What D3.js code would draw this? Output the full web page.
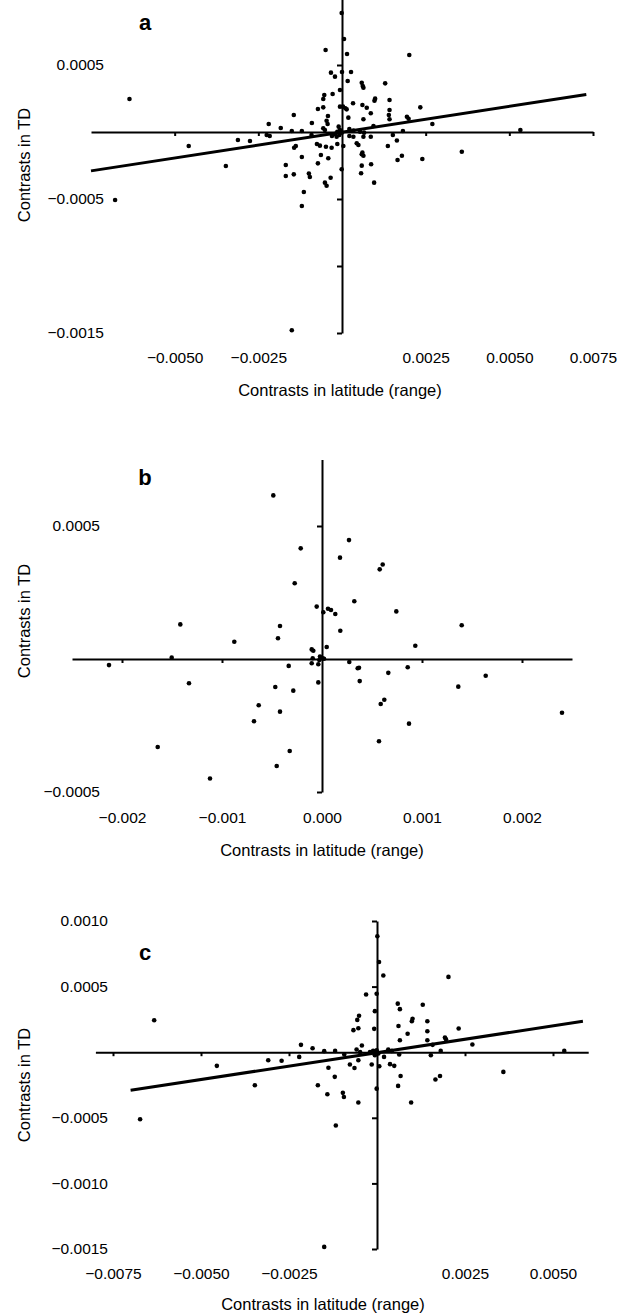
<!DOCTYPE html>
<html>
<head>
<meta charset="utf-8">
<script src="https://cdn.jsdelivr.net/npm/d3@7/dist/d3.min.js"></script>
<style>
  body { margin: 0; background: #fff; }
  svg { display: block; font-family: "Liberation Sans", Arial, sans-serif; }
  .domain { stroke: #000; stroke-width: 2px; }
  .tick line { stroke: #000; stroke-width: 2px; }
</style>
</head>
<body>
<div id="chart"></div>
<script>
// panel a: contrasts in latitude vs contrasts in TD (all species)
const aLat = [-63.5e-4,-67.8e-4,-45.8e-4,-34.7e-4,-31.1e-4,-27.5e-4,-22.5e-4,-21.6e-4,-21.9e-4,-18.3e-4,
  -15.0e-4,-12.0e-4,-14.4e-4,-9.0e-4,-7.2e-4,-13.8e-4,-14.3e-4,-12.0e-4,-7.5e-4,-6.6e-4,
  -7.2e-4,-16.8e-4,-16.8e-4,-14.4e-4,-9.9e-4,-9.6e-4,-11.4e-4,-12.0e-4,-0.1e-4,0.6e-4,
  -4.9e-4,1.5e-4,20.1e-4,-3.3e-4,-2.1e-4,2.7e-4,0.0,1.7e-4,5.9e-4,6.2e-4,
  6.4e-4,12.9e-4,-0.6e-4,-5.3e-4,-5.6e-4,-2.8e-4,9.9e-4,9.7e-4,14.2e-4,3.3e-4,
  6.1e-4,-5.6e-4,-0.6e-4,0.3e-4,1.0e-4,1.4e-4,7.4e-4,8.6e-4,14.2e-4,14.0e-4,
  14.2e-4,23.4e-4,19.4e-4,19.9e-4,-4.2e-4,6.4e-4,1.9e-4,-4.6e-4,-4.3e-4,-5.6e-4,
  -5.1e-4,-1.0e-4,-0.6e-4,-1.4e-4,-0.1e-4,-0.8e-4,-1.6e-4,-2.1e-4,-3.0e-4,2.2e-4,
  3.4e-4,5.4e-4,6.6e-4,9.4e-4,18.2e-4,27.0e-4,-9.1e-4,2.2e-4,3.4e-4,4.4e-4,
  4.9e-4,6.4e-4,8.6e-4,15.2e-4,16.4e-4,13.7e-4,-4.8e-4,-3.1e-4,-1.4e-4,0.4e-4,
  6.1e-4,5.9e-4,6.4e-4,-6.3e-4,-4.1e-4,17.9e-4,16.6e-4,24.0e-4,5.9e-4,8.7e-4,
  -0.1e-4,5.7e-4,-3.4e-4,-5.1e-4,-4.6e-4,9.6e-4,35.8e-4,53.3e-4,-15.0e-4];
const aTD = [2.46e-4,-5.07e-4,-1.04e-4,-2.54e-4,-0.60e-4,-0.67e-4,-0.22e-4,-0.30e-4,0.60e-4,0.30e-4,
  0.07e-4,0.07e-4,1.27e-4,0.67e-4,1.72e-4,-1.04e-4,-1.17e-4,-1.87e-4,-0.90e-4,-1.02e-4,
  -2.34e-4,-2.46e-4,-3.28e-4,-3.16e-4,-3.10e-4,-3.36e-4,-4.48e-4,-5.52e-4,8.88e-4,6.94e-4,
  6.12e-4,5.82e-4,5.75e-4,4.43e-4,4.13e-4,4.48e-4,4.48e-4,3.81e-4,3.68e-4,3.43e-4,
  3.31e-4,3.63e-4,3.13e-4,2.76e-4,2.46e-4,2.84e-4,2.49e-4,2.34e-4,2.39e-4,2.14e-4,
  2.01e-4,1.84e-4,1.89e-4,1.89e-4,1.77e-4,1.69e-4,1.81e-4,1.40e-4,1.64e-4,1.27e-4,
  0.95e-4,1.84e-4,1.14e-4,0.99e-4,1.19e-4,0.95e-4,1.07e-4,0.84e-4,0.60e-4,0.28e-4,
  0.15e-4,0.40e-4,0.15e-4,0.02e-4,-0.05e-4,-0.22e-4,-0.35e-4,-0.15e-4,-0.30e-4,0.22e-4,
  0.10e-4,0.02e-4,-0.05e-4,0.45e-4,0.07e-4,0.60e-4,-0.22e-4,-0.30e-4,-0.35e-4,-0.84e-4,
  -0.97e-4,-0.35e-4,-0.35e-4,-0.22e-4,-0.63e-4,-1.04e-4,-1.10e-4,-1.17e-4,-0.90e-4,-1.04e-4,
  -1.54e-4,-1.66e-4,-1.77e-4,-1.72e-4,-1.96e-4,-1.77e-4,-2.09e-4,-2.01e-4,-2.51e-4,-2.41e-4,
  -2.78e-4,-3.08e-4,-3.41e-4,-3.78e-4,-4.01e-4,-3.78e-4,-1.47e-4,0.15e-4,-14.8e-4];
const aFitLat = [-0.0075, 0.0073];
const aFitTD = [-0.00029, 0.00028];

// panel b
const bLat = [-4.87e-4,-2.13e-4,-2.73e-4,-0.53e-4,-14.17e-4,-4.2e-4,-4.4e-4,-8.77e-4,-1.03e-4,-0.87e-4,
  -15.03e-4,-21.3e-4,-3.33e-4,-1.03e-4,-0.37e-4,-13.3e-4,-0.37e-4,-4.67e-4,-2.87e-4,-6.33e-4,
  -4.2e-4,-6.8e-4,-16.43e-4,-3.23e-4,-4.53e-4,-11.2e-4,2.7e-4,1.8e-4,6.07e-4,5.77e-4,
  3.23e-4,0.13e-4,0.6e-4,0.9e-4,1.33e-4,7.43e-4,13.97e-4,1.83e-4,9.33e-4,0.47e-4,
  -0.2e-4,0.07e-4,0.2e-4,-0.27e-4,-0.93e-4,2.73e-4,3.57e-4,3.7e-4,8.57e-4,6.63e-4,
  3.77e-4,16.37e-4,13.63e-4,6.23e-4,5.87e-4,24.0e-4,8.7e-4,5.7e-4];
const bTD = [6.15e-4,4.16e-4,2.85e-4,1.97e-4,1.30e-4,1.24e-4,0.78e-4,0.65e-4,0.36e-4,0.31e-4,
  0.05e-4,-0.23e-4,-0.26e-4,-0.16e-4,-0.20e-4,-0.91e-4,-0.88e-4,-1.05e-4,-1.19e-4,-1.74e-4,
  -1.98e-4,-2.34e-4,-3.31e-4,-3.46e-4,-4.02e-4,-4.49e-4,4.47e-4,3.81e-4,3.55e-4,3.37e-4,
  2.17e-4,1.76e-4,1.89e-4,1.84e-4,1.69e-4,1.79e-4,1.27e-4,1.06e-4,0.50e-4,0.45e-4,
  0.09e-4,0.03e-4,0.01e-4,-0.04e-4,0.03e-4,-0.11e-4,-0.35e-4,-0.33e-4,-0.31e-4,-0.52e-4,
  -0.83e-4,-0.63e-4,-1.04e-4,-1.53e-4,-1.69e-4,-2.02e-4,-2.43e-4,-3.09e-4];

// panel c
const cLat = [-63.3e-4,-67.3e-4,-45.5e-4,-34.7e-4,-30.9e-4,-27.1e-4,-22.1e-4,-21.6e-4,-18.3e-4,-16.8e-4,
  0.57e-4,1.8e-4,20.3e-4,-3.1e-4,-0.1e-4,5.9e-4,6.5e-4,13.0e-4,-0.6e-4,-5.1e-4,
  -5.6e-4,10.1e-4,9.9e-4,14.3e-4,-6.7e-4,-5.3e-4,-0.8e-4,6.1e-4,8.7e-4,14.3e-4,
  23.2e-4,6.5e-4,14.3e-4,19.3e-4,19.6e-4,-4.3e-4,-15.0e-4,-11.9e-4,-5.8e-4,-4.8e-4,
  -2.0e-4,-1.1e-4,-0.1e-4,0.4e-4,-0.6e-4,3.2e-4,4.2e-4,6.3e-4,15.3e-4,18.1e-4,
  -9.3e-4,-5.3e-4,2.0e-4,-13.8e-4,-7.7e-4,-6.4e-4,-1.5e-4,0.65e-4,3.7e-4,4.9e-4,
  -12.0e-4,6.7e-4,6.0e-4,16.6e-4,17.9e-4,-0.1e-4,-14.1e-4,-9.7e-4,-9.4e-4,-5.3e-4,
  9.7e-4,0.1e-4,27.1e-4,15.8e-4,53.2e-4,35.9e-4,-11.7e-4,-15.0e-4];
const cTD = [2.44e-4,-5.11e-4,-1.04e-4,-2.52e-4,-0.61e-4,-0.65e-4,-0.36e-4,0.56e-4,0.30e-4,-2.52e-4,
  6.88e-4,5.85e-4,5.74e-4,4.40e-4,4.46e-4,3.70e-4,3.28e-4,3.62e-4,3.13e-4,2.78e-4,
  2.46e-4,2.55e-4,2.36e-4,2.36e-4,1.68e-4,1.83e-4,1.78e-4,2.00e-4,1.41e-4,1.60e-4,
  1.81e-4,0.91e-4,0.91e-4,1.12e-4,0.99e-4,0.51e-4,0.08e-4,0.10e-4,0.21e-4,0.02e-4,
  0.02e-4,0.10e-4,0.15e-4,-0.10e-4,-0.23e-4,0.21e-4,0.10e-4,-0.18e-4,-0.23e-4,0.10e-4,
  -0.18e-4,-0.61e-4,-0.36e-4,-1.18e-4,-0.94e-4,-1.20e-4,-0.94e-4,-1.07e-4,-0.91e-4,-1.04e-4,
  -1.88e-4,-1.81e-4,-2.57e-4,-2.08e-4,-1.81e-4,-2.78e-4,-3.20e-4,-3.10e-4,-3.41e-4,-3.83e-4,
  -3.83e-4,8.84e-4,0.59e-4,0.56e-4,0.10e-4,-1.50e-4,-5.59e-4,-14.84e-4];
const cFitLat = [-0.0070, 0.00585];
const cFitTD = [-0.00029, 0.000236];

// ticks and labels
const aXTicks = [-0.005, -0.0025, 0.0025, 0.005, 0.0075];
const aYTicks = [0.0005, -0.0005, -0.001, -0.0015];
const aYLabels = [0.0005, -0.0005, -0.0015];
const bXTicks = [-0.002, -0.001, 0.001, 0.002];
const bXLabels = [-0.002, -0.001, 0, 0.001, 0.002];
const bYTicks = [0.0005, -0.0005];
const cXTicks = [-0.0075, -0.005, -0.0025, 0.0025, 0.005];
const cYTicks = [0.001, 0.0005, -0.0005, -0.001, -0.0015];

const W = 626, H = 1314;
const svg = d3.select('#chart').append('svg').attr('width', W).attr('height', H);
svg.append('rect').attr('width', W).attr('height', H).attr('fill', '#fff');

function drawPanel(o) {
  const x = d3.scaleLinear().domain(o.xDomain).range(o.xRange);
  const y = d3.scaleLinear().domain(o.yDomain).range(o.yRange);
  const g = svg.append('g');

  // horizontal axis through y = 0, ticks pointing down
  g.append('g')
    .attr('transform', `translate(0,${y(0)})`)
    .call(d3.axisBottom(x).tickValues(o.xTicks).tickSize(4).tickSizeOuter(0).tickFormat(''));

  // vertical axis through x = 0, ticks pointing left
  g.append('g')
    .attr('transform', `translate(${x(0)},0)`)
    .call(d3.axisLeft(y).tickValues(o.yTicks).tickSize(5).tickSizeOuter(0).tickFormat(''));

  // x tick labels sit below the plot
  const xl = g.append('g')
    .attr('transform', `translate(0,${o.xLabelY})`)
    .call(d3.axisBottom(x).tickValues(o.xLabels).tickSize(0).tickPadding(0).tickFormat(d3.format(o.xFmt)));
  xl.select('.domain').remove();
  xl.selectAll('text').attr('font-size', 15.5).attr('fill', '#000').attr('dy', '0.35em')
    .attr('font-family', '"Liberation Sans", Arial, sans-serif');

  // y tick labels sit at the far left
  const yl = g.append('g')
    .attr('transform', `translate(${o.yLabelX},0)`)
    .call(d3.axisLeft(y).tickValues(o.yLabels).tickSize(0).tickPadding(0).tickFormat(d3.format('.4f')));
  yl.select('.domain').remove();
  yl.selectAll('text').attr('font-size', 15.5).attr('fill', '#000')
    .attr('font-family', '"Liberation Sans", Arial, sans-serif');

  // points
  g.append('g').selectAll('circle')
    .data(o.lat.map((v, i) => [v, o.td[i]]))
    .join('circle')
    .attr('cx', d => x(d[0]))
    .attr('cy', d => y(d[1]))
    .attr('r', 2.3)
    .attr('fill', '#000');

  // regression line
  if (o.fitLat) {
    g.append('line')
      .attr('x1', x(o.fitLat[0])).attr('y1', y(o.fitTD[0]))
      .attr('x2', x(o.fitLat[1])).attr('y2', y(o.fitTD[1]))
      .attr('stroke', '#000').attr('stroke-width', 3);
  }

  // panel letter
  g.append('text').attr('x', 145).attr('y', o.letterY).attr('text-anchor', 'middle')
    .attr('dy', '0.35em').attr('font-size', 22).attr('font-weight', 'bold').text(o.letter);

  // axis titles
  g.append('text')
    .attr('transform', `translate(24,${o.yTitleY}) rotate(-90)`)
    .attr('text-anchor', 'middle').attr('dy', '0.35em').attr('font-size', 16.5)
    .text('Contrasts in TD');
  g.append('text').attr('x', o.xTitleX).attr('y', o.xTitleY)
    .attr('text-anchor', 'middle').attr('dy', '0.35em').attr('font-size', 16.5)
    .text('Contrasts in latitude (range)');
}

drawPanel({
  letter: 'a', letterY: 22,
  lat: aLat, td: aTD, fitLat: aFitLat, fitTD: aFitTD,
  xDomain: [-0.0075, 0.0075], xRange: [91, 593],
  yDomain: [-0.0015, 0.001], yRange: [333, -2],
  xTicks: aXTicks, xLabels: aXTicks, xFmt: '.4f', xLabelY: 358,
  yTicks: aYTicks, yLabels: aYLabels, yLabelX: 104,
  yTitleY: 165, xTitleX: 340, xTitleY: 390
});

drawPanel({
  letter: 'b', letterY: 477,
  lat: bLat, td: bTD,
  xDomain: [-0.0025, 0.0025], xRange: [72, 572],
  yDomain: [-0.0005, 0.00075], yRange: [792, 459.5],
  xTicks: bXTicks, xLabels: bXLabels, xFmt: '.3f', xLabelY: 818,
  yTicks: bYTicks, yLabels: bYTicks, yLabelX: 100,
  yTitleY: 621, xTitleX: 322, xTitleY: 850
});

drawPanel({
  letter: 'c', letterY: 952,
  lat: cLat, td: cTD, fitLat: cFitLat, fitTD: cFitTD,
  xDomain: [-0.008, 0.006], xRange: [95.4, 588.2],
  yDomain: [-0.0015, 0.001], yRange: [1249, 921],
  xTicks: cXTicks, xLabels: cXTicks, xFmt: '.4f', xLabelY: 1274,
  yTicks: cYTicks, yLabels: cYTicks, yLabelX: 108,
  yTitleY: 1085, xTitleX: 323, xTitleY: 1304
});
</script>
</body>
</html>
